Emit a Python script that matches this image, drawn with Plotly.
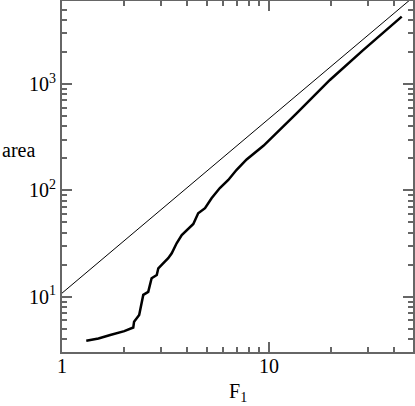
import plotly.graph_objects as go

# thick curve: area vs F1
curve_F = [1.31, 1.5, 1.71, 2.0, 2.21, 2.23, 2.36, 2.47, 2.61, 2.71, 2.87, 2.92, 3.08, 3.26,
           3.39, 3.58, 3.79, 4.00, 4.31, 4.55, 4.91, 5.28, 5.79, 6.36, 6.98, 7.8, 9.4,
           13.6, 19.7, 28.6, 43.8]
curve_area = [3.86, 4.05, 4.36, 4.75, 5.13, 5.82, 6.73, 10.4, 11.1, 14.9, 16.0, 18.5, 20.6, 23.0,
              25.6, 31.8, 38.0, 41.8, 48.3, 60.9, 67.9, 84.3, 105, 125, 156, 195, 262,
              530, 1090, 2090, 4300]

# thin reference line (endpoints)
ref_F = [1, 50]
ref_area = [10.8, 6600]

x_tickvals = [1, 10]
x_ticktext = ["1", "10"]
y_tickvals = [10, 100, 1000]
y_ticktext = ["10<sup>1</sup>", "10<sup>2</sup>", "10<sup>3</sup>"]
x_minor = [2, 3, 4, 5, 6, 7, 8, 9, 20, 30, 40, 50]
y_minor = [4, 5, 6, 7, 8, 9, 20, 30, 40, 50, 60, 70, 80, 90,
           200, 300, 400, 500, 600, 700, 800, 900, 2000, 3000, 4000, 5000, 6000]

fig = go.Figure()
fig.add_trace(go.Scatter(x=ref_F, y=ref_area, mode="lines",
                         line=dict(color="black", width=1), showlegend=False))
fig.add_trace(go.Scatter(x=curve_F, y=curve_area, mode="lines",
                         line=dict(color="black", width=2.5), showlegend=False))

font = dict(family="Liberation Serif, Times New Roman, serif", size=20, color="black")
axcol = "#666666"

common = dict(ticks="inside", ticklen=10, tickwidth=1.5, tickcolor=axcol,
              showline=True, linecolor=axcol, linewidth=2, mirror="allticks",
              showgrid=False, zeroline=False, tickfont=font, automargin=False)

fig.update_xaxes(type="log", range=[0, 1.696], tickvals=x_tickvals, ticktext=x_ticktext,
                 ticklabelstandoff=-5,
                 minor=dict(tickvals=x_minor, ticks="inside", ticklen=5, tickwidth=1.5,
                            tickcolor=axcol, showgrid=False), **common)
fig.update_yaxes(type="log", range=[0.48, 3.78], tickvals=y_tickvals, ticktext=y_ticktext,
                 minor=dict(tickvals=y_minor, ticks="inside", ticklen=5, tickwidth=1.5,
                            tickcolor=axcol, showgrid=False), **common)

fig.add_annotation(text="area", xref="paper", yref="paper", x=-62 / 351, y=(352 - 150) / 351,
                   xanchor="left", yanchor="middle", showarrow=False, font=font)
fig.add_annotation(text="F<sub>1</sub>", xref="paper", yref="paper", x=0.5, y=-0.114,
                   xanchor="center", yanchor="middle", showarrow=False, font=font)

fig.update_layout(width=415, height=406, margin=dict(l=62, r=2, t=1, b=54),
                  plot_bgcolor="white", paper_bgcolor="white")

fig.write_html("out.html", config={"displayModeBar": False},
               post_script="document.body.style.margin='0';document.body.style.overflow='hidden';")
